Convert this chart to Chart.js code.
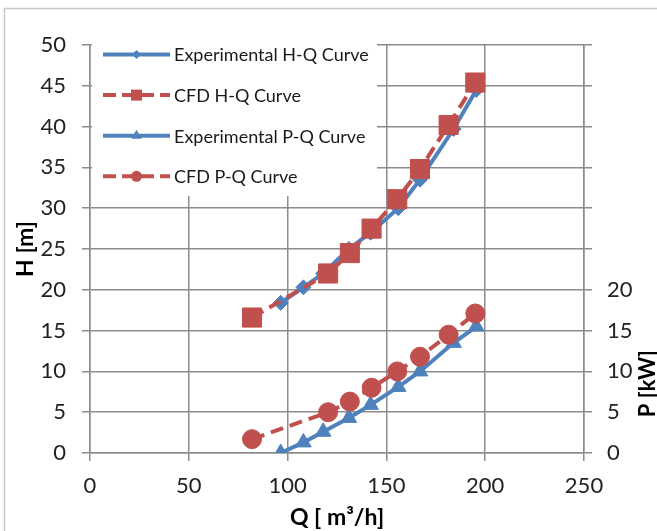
<!DOCTYPE html>
<html><head><meta charset="utf-8">
<script src="https://cdn.jsdelivr.net/npm/chart.js@4.4.1/dist/chart.umd.min.js"></script>
<style>html,body{margin:0;padding:0;background:#fff;overflow:hidden}#wrap{position:relative;width:657px;height:531px}</style>
</head><body><div id="wrap"><canvas id="c" width="657" height="531"></canvas></div>
<script>
// ---- data ----
const expQ = [96.5, 108, 118, 131, 142, 156, 167, 184, 195.5];
const expH = [18.4, 20.3, 22.0, 25.0, 27.0, 30.0, 33.5, 39.7, 44.5];
const expP = [0.0, 1.3, 2.6, 4.3, 5.9, 8.1, 10.0, 13.5, 15.5];
const cfdQ = [82, 120.5, 131.5, 142.5, 155.5, 167, 181.5, 195];
const cfdH = [16.6, 22.0, 24.5, 27.5, 31.1, 34.8, 40.2, 45.4];
const cfdP = [1.7, 5.0, 6.3, 8.0, 10.0, 11.8, 14.5, 17.1];
const xTicks = [0, 50, 100, 150, 200, 250];
const hTicks = [0, 5, 10, 15, 20, 25, 30, 35, 40, 45, 50];
const pTicks = [0, 5, 10, 15, 20];
const seriesNames = ['Experimental H-Q Curve', 'CFD H-Q Curve', 'Experimental P-Q Curve', 'CFD P-Q Curve'];

const BLUE = '#4f81bd', RED = '#c0504d', GRID = '#8c8c8c', FONT = 'Lato';
const pts = (xs, ys) => xs.map((x, i) => ({x: x, y: ys[i]}));

function marker(ctx, style, x, y, r, color) {
  ctx.save(); ctx.fillStyle = color; ctx.beginPath();
  if (style === 'rect') { ctx.rect(x - r, y - r, 2 * r, 2 * r); }
  else if (style === 'circle') { ctx.arc(x, y, r, 0, Math.PI * 2); }
  else if (style === 'rectRot') { ctx.moveTo(x, y - r); ctx.lineTo(x + r, y); ctx.lineTo(x, y + r); ctx.lineTo(x - r, y); ctx.closePath(); }
  else if (style === 'triangle') { ctx.moveTo(x, y - r); ctx.lineTo(x + r * 0.866, y + r * 0.5); ctx.lineTo(x - r * 0.866, y + r * 0.5); ctx.closePath(); }
  ctx.fill(); ctx.restore();
}

const innerLegend = {
  id: 'innerLegend',
  beforeDatasetsDraw(chart) {
    const ctx = chart.ctx, a = chart.chartArea;
    ctx.save();
    ctx.fillStyle = '#fff';
    ctx.fillRect(a.left + 2, a.top - 4, 285, 155);
    const rows = [
      {c: BLUE, dash: [], m: 'rectRot', r: 4.5},
      {c: RED, dash: [13, 6], m: 'rect', r: 5.5},
      {c: BLUE, dash: [], m: 'triangle', r: 6},
      {c: RED, dash: [13, 6], m: 'circle', r: 5.5}
    ];
    rows.forEach((it, i) => {
      const y = a.top + 9.5 + i * 40.6;
      const x0 = a.left + 13, x1 = a.left + 80, xm = (x0 + x1) / 2;
      ctx.strokeStyle = it.c; ctx.lineWidth = 4; ctx.lineCap = 'butt';
      ctx.setLineDash(it.dash);
      ctx.beginPath(); ctx.moveTo(x0, y); ctx.lineTo(x1, y); ctx.stroke();
      ctx.setLineDash([]);
      marker(ctx, it.m, xm, y, it.r, it.c);
      ctx.fillStyle = '#1a1a1a'; ctx.font = '18px ' + FONT;
      ctx.textAlign = 'left'; ctx.textBaseline = 'middle';
      ctx.fillText(seriesNames[i], a.left + 84, y + 1);
    });
    ctx.restore();
  },
  afterDraw(chart) {
    const ctx = chart.ctx, s = chart.scales.y2;
    ctx.save();
    ctx.strokeStyle = '#c8c8c8'; ctx.lineWidth = 1.5;
    ctx.strokeRect(4.5, 8.5, 800, 700);
    ctx.translate(655, s.getPixelForValue(8.5));
    ctx.rotate(-Math.PI / 2);
    ctx.fillStyle = '#000'; ctx.font = 'bold 22px ' + FONT;
    ctx.textAlign = 'center'; ctx.textBaseline = 'alphabetic';
    ctx.fillText('P [kW]', 0, 0);
    ctx.restore();
  }
};

const tickFont = {family: FONT, size: 22};
const titleFont = {family: FONT, size: 23, weight: 'bold'};

new Chart(document.getElementById('c'), {
  type: 'line',
  data: {
    datasets: [
      {label: seriesNames[0], data: pts(expQ, expH), yAxisID: 'y', borderColor: BLUE, backgroundColor: BLUE,
       borderWidth: 4, pointStyle: 'rectRot', pointRadius: 7.5, pointBorderWidth: 1, order: 2},
      {label: seriesNames[1], data: pts(cfdQ, cfdH), yAxisID: 'y', borderColor: RED, backgroundColor: RED,
       borderWidth: 4, borderDash: [13, 7], pointStyle: 'rect', pointRadius: 13.5, pointBorderWidth: 1, order: 1},
      {label: seriesNames[2], data: pts(expQ, expP), yAxisID: 'y2', borderColor: BLUE, backgroundColor: BLUE,
       borderWidth: 4, pointStyle: 'triangle', pointRadius: 9, pointBorderWidth: 1, order: 2},
      {label: seriesNames[3], data: pts(cfdQ, cfdP), yAxisID: 'y2', borderColor: RED, backgroundColor: RED,
       borderWidth: 4, borderDash: [13, 7], pointStyle: 'circle', pointRadius: 9.5, pointBorderWidth: 1, order: 1}
    ]
  },
  options: {
    responsive: false, animation: false, devicePixelRatio: 1,
    layout: {padding: {left: 0, right: 0, top: 45, bottom: 0}},
    plugins: {legend: {display: false}, tooltip: {enabled: false}},
    elements: {line: {tension: 0, borderCapStyle: 'butt'}},
    scales: {
      x: {
        type: 'linear', min: 0, max: 250,
        afterBuildTicks: s => { s.ticks = xTicks.map(v => ({value: v})); },
        afterFit: s => { s.height = 78; },
        grid: {color: GRID, lineWidth: 1.5, tickLength: 8},
        border: {color: GRID, width: 1.5},
        ticks: {font: tickFont, color: '#222', padding: 12, maxRotation: 0},
        title: {display: true, text: 'Q [ m³/h]', font: titleFont, color: '#000', padding: {top: 0, bottom: 0}}
      },
      y: {
        position: 'left', min: 0, max: 50,
        afterBuildTicks: s => { s.ticks = hTicks.map(v => ({value: v})); },
        afterFit: s => { s.width = 90; },
        grid: {color: GRID, lineWidth: 1.5, tickLength: 8},
        border: {color: GRID, width: 1.5},
        ticks: {font: tickFont, color: '#222', padding: 16},
        title: {display: true, text: 'H [m]', font: titleFont, color: '#000', padding: {top: 12, bottom: 0}}
      },
      y2: {
        position: 'right', min: 0, max: 50,
        afterBuildTicks: s => { s.ticks = hTicks.map(v => ({value: v})); },
        afterFit: s => { s.width = 73; },
        grid: {drawOnChartArea: false, color: GRID, lineWidth: 1.5, tickLength: 8},
        border: {color: GRID, width: 1.5},
        ticks: {font: tickFont, color: '#222', padding: 15,
          callback: v => pTicks.includes(v) ? String(v) : ''},
        title: {display: false}
      }
    }
  },
  plugins: [innerLegend]
});
</script></body></html>
